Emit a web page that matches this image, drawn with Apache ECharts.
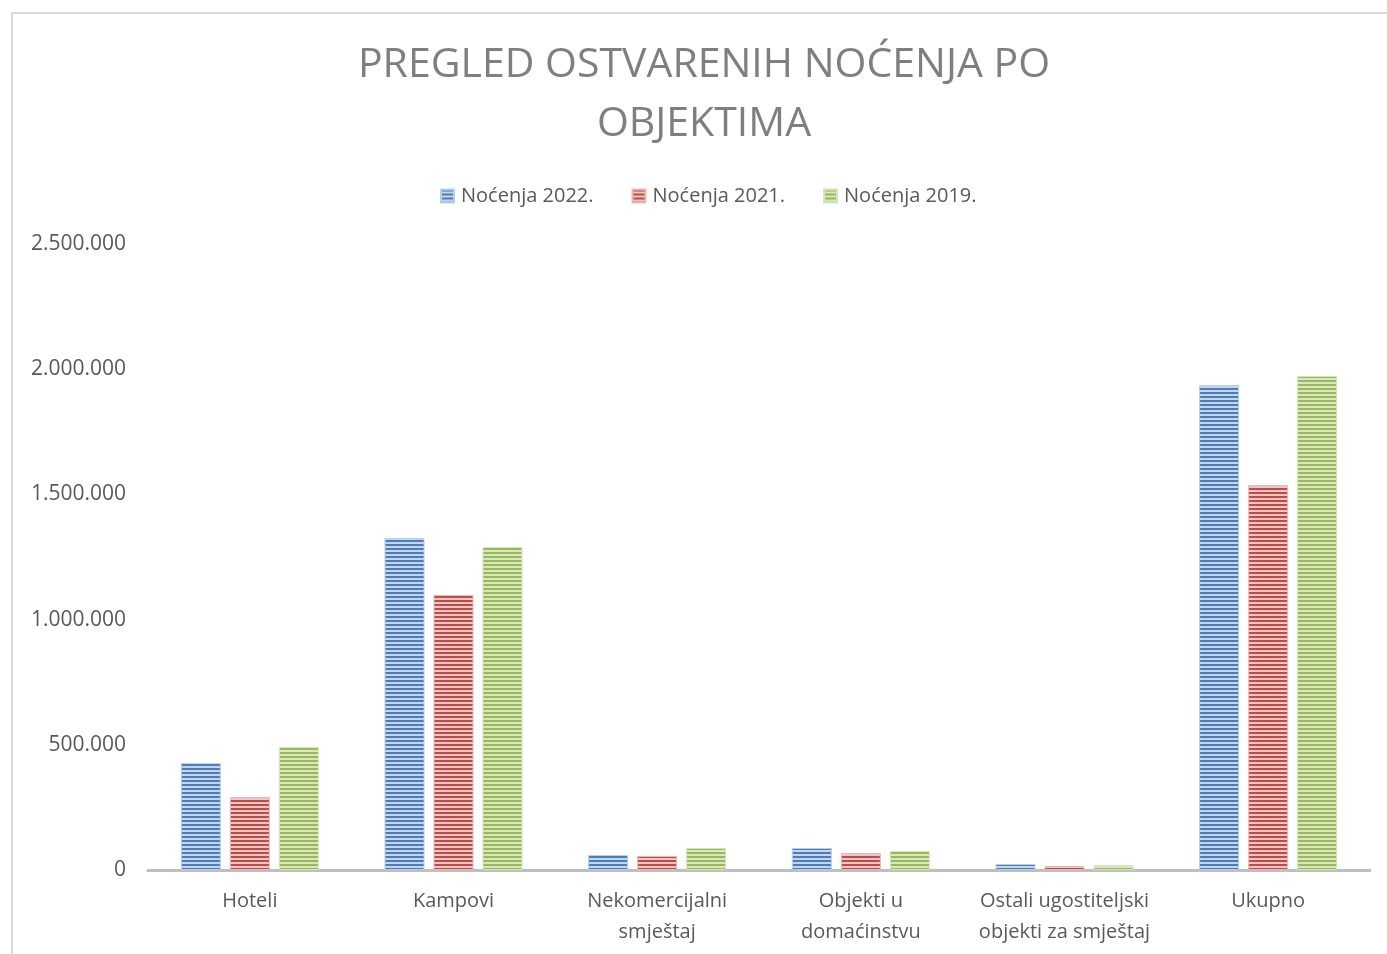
<!DOCTYPE html>
<html>
<head>
<meta charset="utf-8">
<style>html,body{margin:0;padding:0;background:#fff;}#chart{width:1387px;height:954px;}</style>
<script src="https://cdn.jsdelivr.net/npm/echarts@6/dist/echarts.min.js"></script>
</head>
<body>
<div id="chart"></div>
<script>
const categories = ['Hoteli', 'Kampovi', 'Nekomercijalni\nsmještaj', 'Objekti u\ndomaćinstvu', 'Ostali ugostiteljski\nobjekti za smještaj', 'Ukupno'];
const seriesNames = ['Noćenja 2022.', 'Noćenja 2021.', 'Noćenja 2019.'];
const nocenja2022 = [427000, 1326000, 60000, 88000, 24000, 1937000];
const nocenja2021 = [291000, 1098000, 56000, 68000, 16000, 1537000];
const nocenja2019 = [491000, 1290000, 88000, 76000, 20000, 1973000];
const yTicks = [0, 500000, 1000000, 1500000, 2000000, 2500000];
const titleLines = ['PREGLED OSTVARENIH NOĆENJA PO', 'OBJEKTIMA'];

function stripe(dark, light) {
  const c = document.createElement('canvas');
  c.width = 4; c.height = 4;
  const ctx = c.getContext('2d');
  ctx.fillStyle = light; ctx.fillRect(0, 0, 4, 4);
  ctx.fillStyle = dark; ctx.fillRect(0, 0, 4, 2);
  return { image: c, repeat: 'repeat' };
}
const fills = [
  stripe('#4a7ebb', '#c5d5ea'),
  stripe('#be4b48', '#ebc6c5'),
  stripe('#98b954', '#d9e7c4')
];
const borders = ['#b9cde5', '#e6b9b8', '#d7e4bd'];
const values = [nocenja2022, nocenja2021, nocenja2019];

function fmt(v) { return String(v).replace(/\B(?=(\d{3})+(?!\d))/g, '.'); }

const titleStyle = { fontFamily: 'Open Sans', fontSize: 41, fontWeight: 'normal', color: '#7f7f7f', lineHeight: 59 };

const chart = echarts.init(document.getElementById('chart'));
chart.setOption({
  animation: false,
  backgroundColor: '#ffffff',
  graphic: [{
    type: 'rect', shape: { x: 12, y: 13, width: 1420, height: 1000 },
    style: { fill: 'none', stroke: '#d9d9d9', lineWidth: 2 }, z: -1
  }],
  title: titleLines.map((t, i) => ({
    text: t, left: 704, textAlign: 'center', top: 36 + i * 59, padding: 0,
    textStyle: titleStyle
  })),
  legend: {
    data: seriesNames, top: 181, left: 435,
    itemWidth: 13, itemHeight: 13, itemGap: 38,
    icon: 'rect',
    textStyle: { fontFamily: 'Open Sans', fontSize: 20, color: '#595959', padding: [0, 0, 0, 2] }
  },
  grid: { left: 148, right: 17, top: 244, bottom: 84, containLabel: false },
  xAxis: {
    type: 'category', data: categories,
    axisLine: { lineStyle: { color: '#bfbfbf', width: 3 } },
    axisTick: { show: false },
    axisLabel: { fontFamily: 'Open Sans', fontSize: 20, color: '#595959', lineHeight: 31, margin: 16, interval: 0 }
  },
  yAxis: {
    type: 'value', min: yTicks[0], max: yTicks[yTicks.length - 1], interval: yTicks[1] - yTicks[0],
    axisLine: { show: false }, axisTick: { show: false }, splitLine: { show: false },
    axisLabel: { fontFamily: 'Open Sans', fontSize: 21, color: '#595959', margin: 22, formatter: fmt }
  },
  series: seriesNames.map((n, i) => ({
    name: n, type: 'bar', data: values[i],
    barWidth: 40, barGap: '22.5%',
    itemStyle: { color: fills[i], borderColor: borders[i], borderWidth: 1 }
  }))
});
</script>
</body>
</html>
